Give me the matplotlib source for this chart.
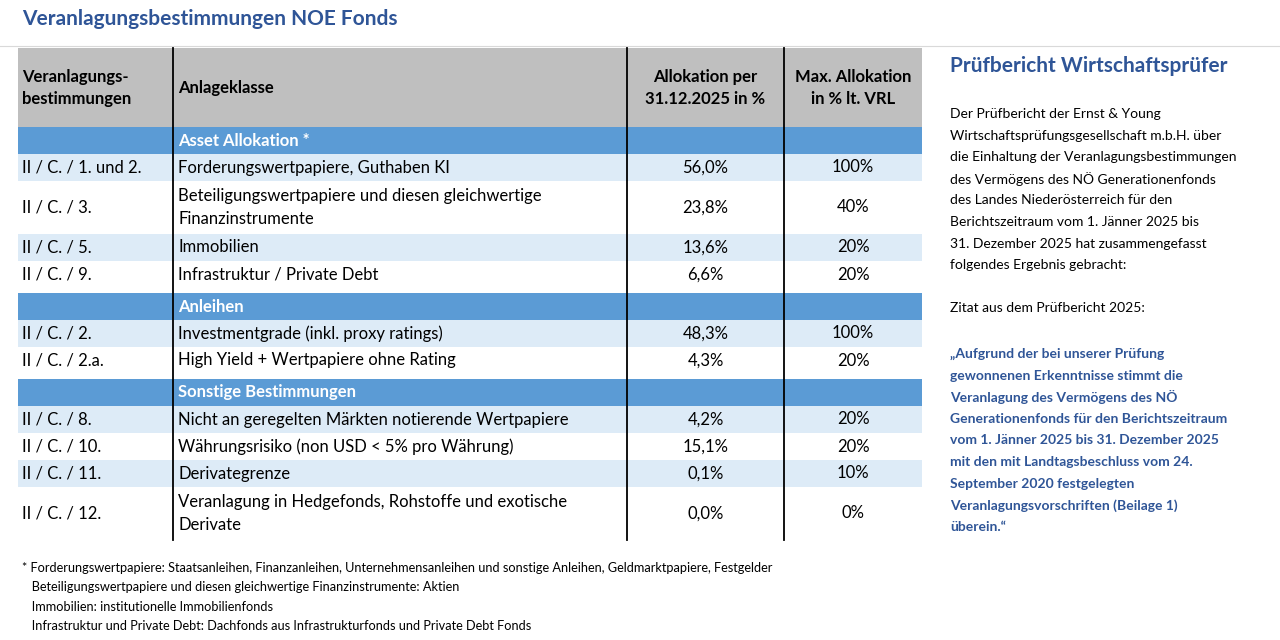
import matplotlib.pyplot as plt
from matplotlib.patches import Rectangle

plt.rcParams['font.family'] = ['Lato', 'DejaVu Sans']

BLUE_DARK = "#2F5597"
SECTION = "#5B9BD5"
LIGHT = "#DDEBF7"
GRAY = "#BFBFBF"

title = "Veranlagungsbestimmungen NOE Fonds"
headers = ["Veranlagungs-\nbestimmungen", "Anlageklasse", "Allokation per\n31.12.2025 in %", "Max. Allokation\nin % lt. VRL"]

# (kind, code, class, allocation, max)
rows = [
    ("sec", "", "Asset Allokation *", "", ""),
    ("row", "II / C. / 1. und 2.", "Forderungswertpapiere, Guthaben KI", "56,0%", "100%"),
    ("row2", "II / C. / 3.", "Beteiligungswertpapiere und diesen gleichwertige\nFinanzinstrumente", "23,8%", "40%"),
    ("row", "II / C. / 5.", "Immobilien", "13,6%", "20%"),
    ("row", "II / C. / 9.", "Infrastruktur / Private Debt", "6,6%", "20%"),
    ("sec", "", "Anleihen", "", ""),
    ("row", "II / C. / 2.", "Investmentgrade (inkl. proxy ratings)", "48,3%", "100%"),
    ("row", "II / C. / 2.a.", "High Yield + Wertpapiere ohne Rating", "4,3%", "20%"),
    ("sec", "", "Sonstige Bestimmungen", "", ""),
    ("row", "II / C. / 8.", "Nicht an geregelten Märkten notierende Wertpapiere", "4,2%", "20%"),
    ("row", "II / C. / 10.", "Währungsrisiko (non USD < 5% pro Währung)", "15,1%", "20%"),
    ("row", "II / C. / 11.", "Derivategrenze", "0,1%", "10%"),
    ("row2", "II / C. / 12.", "Veranlagung in Hedgefonds, Rohstoffe und exotische\nDerivate", "0,0%", "0%"),
]

side_title = "Prüfbericht Wirtschaftsprüfer"
side_text = ["Der Prüfbericht der Ernst & Young",
             "Wirtschaftsprüfungsgesellschaft m.b.H. über",
             "die Einhaltung der Veranlagungsbestimmungen",
             "des Vermögens des NÖ Generationenfonds",
             "des Landes Niederösterreich für den",
             "Berichtszeitraum vom 1. Jänner 2025 bis",
             "31. Dezember 2025 hat zusammengefasst",
             "folgendes Ergebnis gebracht:",
             "",
             "Zitat aus dem Prüfbericht 2025:"]
quote = ["„Aufgrund der bei unserer Prüfung",
         "gewonnenen Erkenntnisse stimmt die",
         "Veranlagung des Vermögens des NÖ",
         "Generationenfonds für den Berichtszeitraum",
         "vom 1. Jänner 2025 bis 31. Dezember 2025",
         "mit den mit Landtagsbeschluss vom 24.",
         "September 2020 festgelegten",
         "Veranlagungsvorschriften (Beilage 1)",
         "überein.“"]
footnotes = ["* Forderungswertpapiere: Staatsanleihen, Finanzanleihen, Unternehmensanleihen und sonstige Anleihen, Geldmarktpapiere, Festgelder",
             "   Beteiligungswertpapiere und diesen gleichwertige Finanzinstrumente: Aktien",
             "   Immobilien: institutionelle Immobilienfonds",
             "   Infrastruktur und Private Debt: Dachfonds aus Infrastrukturfonds und Private Debt Fonds"]

fig = plt.figure(figsize=(12.8, 6.4), dpi=100)
ax = fig.add_axes([0, 0, 1, 1])
ax.set_xlim(0, 1280)
ax.set_ylim(640, 0)
ax.axis("off")

ax.text(22, 19, title, fontsize=15, fontweight="bold", color=BLUE_DARK, va="center")
ax.plot([0, 1280], [46, 46], color="#D9D9D9", lw=0.8)

x0, x1, x2, x3, x4 = 18, 173, 627, 784, 922
top = 48
ax.add_patch(Rectangle((x0, top), x4 - x0, 79, color=GRAY, lw=0))
hy = top + 40
ax.text(22, hy, headers[0], fontsize=12, fontweight="bold", va="center", linespacing=1.5)
ax.text(178, hy, headers[1], fontsize=12, fontweight="bold", va="center")
ax.text((x2 + x3) / 2, hy, headers[2], fontsize=12, fontweight="bold", va="center", ha="center", linespacing=1.5)
ax.text((x3 + x4) / 2, hy, headers[3], fontsize=12, fontweight="bold", va="center", ha="center", linespacing=1.5)

y = 127
shade = True
for i, (kind, code, cls, alloc, mx) in enumerate(rows):
    if kind == "sec":
        if i > 0:
            y += 5
        h = 27
        ax.add_patch(Rectangle((x0, y), x4 - x0, h, color=SECTION, lw=0))
        ax.text(178, y + h / 2, cls, fontsize=12, fontweight="bold", color="white", va="center")
        shade = True
    else:
        h = 53 if kind == "row2" else 27
        if shade:
            ax.add_patch(Rectangle((x0, y), x4 - x0, h, color=LIGHT, lw=0))
        shade = not shade
        cy = y + h / 2
        ax.text(22, cy, code, fontsize=12, va="center")
        ax.text(178, cy, cls, fontsize=12, va="center", linespacing=1.6)
        ax.text((x2 + x3) / 2, cy, alloc, fontsize=12, va="center", ha="center")
        ax.text((x3 + x4) / 2, cy, mx, fontsize=12, va="center", ha="center")
    y += h

for x in (x1, x2, x3):
    ax.plot([x, x], [top, y], color="black", lw=1.3)

ax.text(950, 66, side_title, fontsize=15, fontweight="bold", color=BLUE_DARK, va="center")
for k, line in enumerate(side_text):
    ax.text(950, 114 + k * 21.6, line, fontsize=10, va="center")
for k, line in enumerate(quote):
    ax.text(950, 354 + k * 21.6, line, fontsize=10, fontweight="bold", color=BLUE_DARK, va="center")

for k, line in enumerate(footnotes):
    ax.text(22, 568 + k * 19.3, line, fontsize=9.2, va="center")

fig.savefig("out.png", dpi=100)
